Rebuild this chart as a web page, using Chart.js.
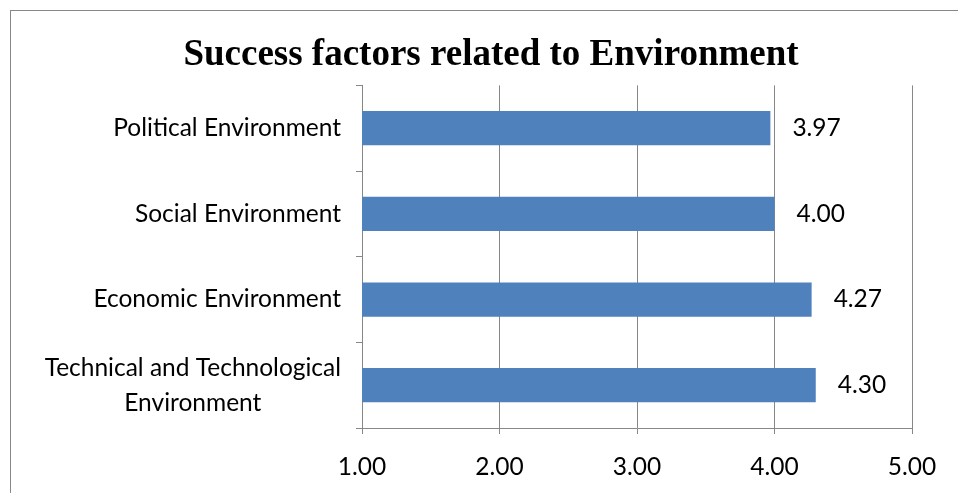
<!DOCTYPE html>
<html>
<head>
<meta charset="utf-8">
<script src="https://cdn.jsdelivr.net/npm/chart.js@4"></script>
<style>
  html, body { margin: 0; padding: 0; background: #fff; overflow: hidden; }
  #box { position: absolute; left: 10px; top: 10px; border: 1px solid #888; background: #fff; }
  canvas { display: block; }
</style>
</head>
<body>
<div id="box"><canvas id="chart" width="960" height="500"></canvas></div>
<script>
// chart data
var categories = [
  'Political Environment',
  'Social Environment',
  'Economic Environment',
  ['Technical and Technological', 'Environment']
];
var scores = [3.97, 4.00, 4.27, 4.30];
var axisTicks = [1, 2, 3, 4, 5];
var chartTitle = 'Success factors related to Environment';

var textFont = '24.5px Lato, "Open Sans", sans-serif';
var gridColor = '#878787';

// value next to each bar
var valueLabels = {
  id: 'valueLabels',
  afterDatasetsDraw: function(chart) {
    var ctx = chart.ctx;
    var meta = chart.getDatasetMeta(0);
    ctx.save();
    ctx.font = textFont;
    ctx.fillStyle = '#000';
    ctx.textAlign = 'left';
    ctx.textBaseline = 'middle';
    meta.data.forEach(function(bar, i) {
      ctx.fillText(scores[i].toFixed(2), bar.x + 22, bar.y);
    });
    ctx.restore();
  }
};

// category labels: right aligned block, lines centred inside it
var categoryLabels = {
  id: 'categoryLabels',
  afterDraw: function(chart) {
    var ctx = chart.ctx;
    var scale = chart.scales.y;
    var right = scale.right - 21;
    var lineH = 35;
    ctx.save();
    ctx.font = textFont;
    ctx.fillStyle = '#000';
    ctx.textAlign = 'center';
    ctx.textBaseline = 'middle';
    categories.forEach(function(label, i) {
      var lines = [].concat(label);
      var w = Math.max.apply(null, lines.map(function(l) { return ctx.measureText(l).width; }));
      var cy = scale.getPixelForValue(i);
      lines.forEach(function(line, j) {
        ctx.fillText(line, right - w / 2, cy + (j - (lines.length - 1) / 2) * lineH);
      });
    });
    ctx.restore();
  }
};

// centre the title on the whole canvas, not the padded area
var centerTitle = {
  id: 'centerTitle',
  afterLayout: function(chart) {
    if (chart.titleBlock) {
      chart.titleBlock.left = 0;
      chart.titleBlock.right = chart.width;
    }
  }
};

new Chart(document.getElementById('chart').getContext('2d'), {
  type: 'bar',
  data: {
    labels: categories,
    datasets: [{
      data: scores,
      backgroundColor: '#4F81BD',
      borderWidth: 0,
      barPercentage: 0.4,
      categoryPercentage: 1
    }]
  },
  options: {
    indexAxis: 'y',
    responsive: false,
    animation: false,
    layout: { padding: { left: 0, right: 59, top: 0, bottom: 0 } },
    plugins: {
      legend: { display: false },
      tooltip: { enabled: false },
      title: {
        display: true,
        text: chartTitle,
        color: '#000',
        font: { family: '"Times New Roman", "Liberation Serif", serif', size: 37, weight: 'bold' },
        padding: { top: 22, bottom: 8 }
      }
    },
    scales: {
      x: {
        min: 1,
        max: 5,
        afterBuildTicks: function(scale) {
          scale.ticks = axisTicks.map(function(v) { return { value: v }; });
        },
        afterFit: function(scale) {
          scale.height = 83;
          scale.paddingLeft = 0;
          scale.paddingRight = 0;
        },
        grid: { color: gridColor, lineWidth: 1, tickLength: 6 },
        border: { color: gridColor },
        ticks: {
          color: '#000',
          font: { family: 'Lato, "Open Sans", sans-serif', size: 24.5 },
          padding: 18,
          maxRotation: 0,
          callback: function(v) { return Number(v).toFixed(2); }
        }
      },
      y: {
        afterFit: function(scale) {
          scale.width = 351;
          scale.paddingTop = 0;
          scale.paddingBottom = 0;
        },
        grid: { offset: true, drawOnChartArea: false, color: gridColor, tickLength: 6 },
        border: { color: gridColor },
        ticks: { display: false }
      }
    }
  },
  plugins: [valueLabels, categoryLabels, centerTitle]
});
</script>
</body>
</html>
